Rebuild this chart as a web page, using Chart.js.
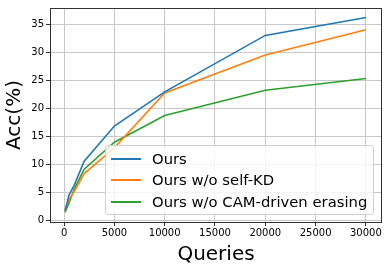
<!DOCTYPE html>
<html>
<head>
<meta charset="utf-8">
<script src="https://cdn.jsdelivr.net/npm/chart.js@4"></script>
<style>
  body { margin: 0; background: #fff; }
  #wrap { position: relative; width: 390px; height: 270px; }
  #legend {
    position: absolute; left: 105px; top: 145px; width: 269px; height: 70px;
    background: rgba(255,255,255,0.8); border: 1px solid #d0d0d0; border-radius: 3px;
    box-sizing: border-box; font-family: "DejaVu Sans", sans-serif; font-size: 14.8px;
  }
  .row { position: absolute; left: 0; height: 20px; line-height: 20px; white-space: nowrap; }
  .row span.sw { position: absolute; left: 5px; top: 9px; width: 30px; height: 2px; }
  .row span.tx { position: absolute; left: 46px; top: 0; }
</style>
</head>
<body>
<div id="wrap">
  <canvas id="myChart" width="390" height="270"></canvas>
  <div id="legend"></div>
</div>
<script>
// data
let queries = [100, 500, 1000, 2000, 5000, 10000, 20000, 30000];
let ours = [1.8, 4.6, 6.3, 10.6, 16.9, 23.0, 33.1, 36.3];
let no_kd = [1.8, 3.8, 5.2, 8.4, 13.0, 22.8, 29.6, 34.1];
let no_cam = [1.5, 3.2, 5.6, 9.2, 14.0, 18.8, 23.3, 25.4];

let series_names = ["Ours", "Ours w/o self-KD", "Ours w/o CAM-driven erasing"];
let series_colors = ["#1f77b4", "#ff7f0e", "#2ca02c"];

let x_ticks = [0, 5000, 10000, 15000, 20000, 25000, 30000];
let y_ticks = [0, 5, 10, 15, 20, 25, 30, 35];

function to_points(values) {
  return values.map((v, i) => ({ x: queries[i], y: v }));
}

let all_series = [ours, no_kd, no_cam];

let datasets = all_series.map((values, i) => ({
  label: series_names[i],
  data: to_points(values),
  borderColor: series_colors[i],
  backgroundColor: series_colors[i],
  borderWidth: 1.6,
  pointRadius: 0,
  tension: 0,
  fill: false,
}));

// frame round the plot area, like matplotlib spines
let frame = {
  id: "frame",
  afterDraw(chart) {
    let a = chart.chartArea;
    let ctx = chart.ctx;
    ctx.save();
    ctx.strokeStyle = "#333";
    ctx.lineWidth = 1;
    ctx.strokeRect(Math.round(a.left) + 0.5, Math.round(a.top) + 0.5,
      Math.round(a.right - a.left) - 1, Math.round(a.bottom - a.top));
    ctx.restore();
  }
};

let tick_font = { family: "DejaVu Sans", size: 10 };
let title_font = { family: "DejaVu Sans", size: 20 };

new Chart("myChart", {
  type: "line",
  data: { datasets: datasets },
  plugins: [frame],
  options: {
    responsive: false,
    devicePixelRatio: 1,
    animation: false,
    layout: { padding: { top: 7, right: 8, left: 0, bottom: 0 } },
    plugins: { legend: { display: false }, tooltip: { enabled: false } },
    scales: {
      x: {
        type: "linear",
        min: -1400,
        max: 31600,
        afterBuildTicks: (s) => { s.ticks = x_ticks.map(v => ({ value: v })); },
        afterFit: (s) => { s.height = 48; },
        ticks: { color: "#000", font: tick_font, padding: 1, maxRotation: 0,
          callback: (v) => String(v) },
        grid: { color: "#c8c8c8", lineWidth: 1, tickLength: 4, tickColor: "#333" },
        border: { display: false },
        title: { display: true, text: "Queries", color: "#000", font: title_font,
          padding: { top: 0, bottom: 3 } },
      },
      y: {
        type: "linear",
        min: -0.25,
        max: 38,
        afterBuildTicks: (s) => { s.ticks = y_ticks.map(v => ({ value: v })); },
        afterFit: (s) => { s.width = 50; },
        ticks: { color: "#000", font: tick_font, padding: 2 },
        grid: { color: "#c8c8c8", lineWidth: 1, tickLength: 4, tickColor: "#333" },
        border: { display: false },
        title: { display: true, text: "Acc(%)", color: "#000", font: title_font,
          padding: { top: 3, bottom: 0 } },
      },
    },
  },
});

// legend inside the plot, lower right
let legend = document.getElementById("legend");
series_names.forEach((name, i) => {
  let row = document.createElement("div");
  row.className = "row";
  row.style.top = (3 + i * 21.3) + "px";
  row.innerHTML = `<span class="sw" style="background:${series_colors[i]}"></span><span class="tx">${name}</span>`;
  legend.appendChild(row);
});
</script>
</body>
</html>
